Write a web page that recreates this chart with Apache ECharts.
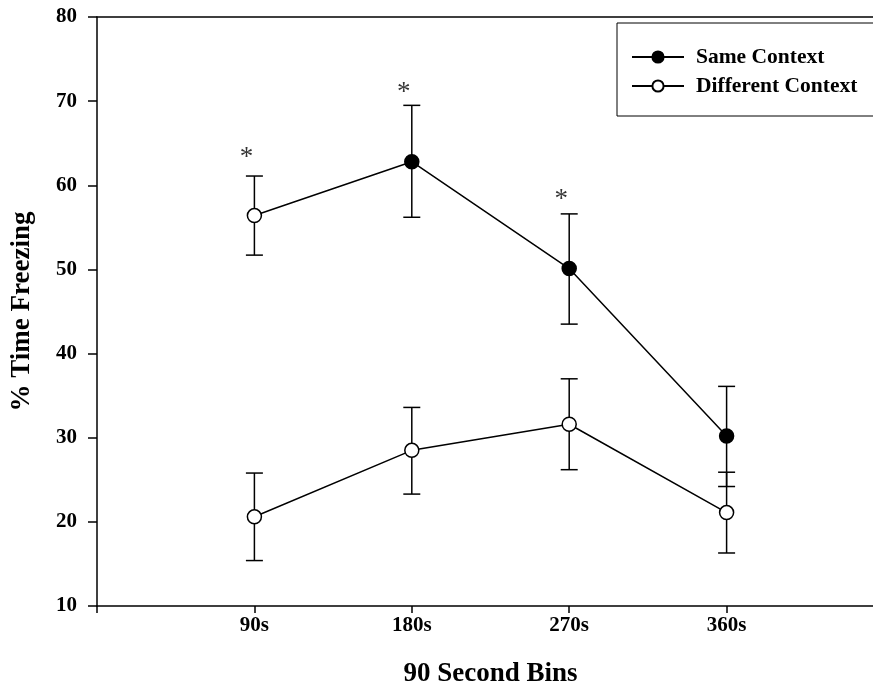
<!DOCTYPE html>
<html>
<head>
<meta charset="utf-8">
<script src="https://cdn.jsdelivr.net/npm/echarts@6/dist/echarts.min.js"></script>
<style>
  html, body { margin: 0; padding: 0; background: #fff; }
  #chart { width: 873px; height: 683px; }
</style>
</head>
<body>
<div id="chart"></div>
<script>
  // bins sit at x = 1..4 on a 0..5 value axis
  var bins = ['90s', '180s', '270s', '360s']
  var sameMean = [56.4, 62.8, 50.1, 30.2]
  var sameLow = [51.7, 56.2, 43.5, 24.2]
  var sameHigh = [61.1, 69.5, 56.6, 36.1]
  var diffMean = [20.6, 28.5, 31.6, 21.1]
  var diffLow = [15.4, 23.3, 26.2, 16.3]
  var diffHigh = [25.8, 33.6, 37.0, 25.9]
  // significance asterisks (bin index, height)
  var starBins = [1, 2, 3]
  var starY = [64.0, 71.7, 59.0]

  var serif = '"Liberation Serif", "Times New Roman", serif'

  function pts(vals) {
    return vals.map(function (v, i) { return [i + 1, v] })
  }
  function bars(low, high) {
    return low.map(function (v, i) { return [i + 1, v, high[i]] })
  }
  function renderBar(params, api) {
    var top = api.coord([api.value(0), api.value(2)])
    var bot = api.coord([api.value(0), api.value(1)])
    var hw = 8.5
    var st = { stroke: '#000', lineWidth: 1.5 }
    return {
      type: 'group',
      children: [
        { type: 'line', shape: { x1: top[0], y1: top[1], x2: bot[0], y2: bot[1] }, style: st },
        { type: 'line', shape: { x1: top[0] - hw, y1: top[1], x2: top[0] + hw, y2: top[1] }, style: st },
        { type: 'line', shape: { x1: bot[0] - hw, y1: bot[1], x2: bot[0] + hw, y2: bot[1] }, style: st }
      ]
    }
  }

  var sameData = pts(sameMean).map(function (p, i) {
    // first point is drawn hollow in the original figure
    return i === 0 ? { value: p, itemStyle: { color: '#fff' } } : p
  })

  var chart = echarts.init(document.getElementById('chart'))
  chart.setOption({
    animation: false,
    backgroundColor: '#fff',
    grid: { left: 97, right: -11, top: 17, bottom: 77, containLabel: false, outerBoundsMode: 'none' },
    legend: {
      orient: 'vertical',
      left: 617,
      top: 23,
      padding: [23, 60, 19, 14],
      itemGap: 7,
      itemWidth: 52,
      itemHeight: 14,
      borderColor: '#000',
      borderWidth: 1,
      textStyle: { fontFamily: serif, fontWeight: 'bold', fontSize: 21.5, color: '#000', padding: [0, 0, 0, 7] },
      data: ['Same Context', 'Different Context']
    },
    xAxis: [
      {
        type: 'value',
        min: 0,
        max: 5,
        interval: 1,
        name: '90 Second Bins',
        nameLocation: 'middle',
        nameGap: 55,
        nameTextStyle: { fontFamily: serif, fontWeight: 'bold', fontSize: 27, color: '#000' },
        axisLine: { lineStyle: { color: '#000', width: 1.5 } },
        axisTick: { length: 7, lineStyle: { color: '#000', width: 1.5 } },
        axisLabel: {
          margin: 9,
          fontFamily: serif, fontWeight: 'bold', fontSize: 21, color: '#000',
          showMinLabel: true, showMaxLabel: true,
          formatter: function (v) { return bins[v - 1] || '' }
        },
        splitLine: { show: false }
      },
      {
        type: 'value',
        position: 'top',
        min: 0,
        max: 5,
        axisLine: { lineStyle: { color: '#000', width: 1.5 } },
        axisTick: { show: false },
        axisLabel: { show: false },
        splitLine: { show: false }
      }
    ],
    yAxis: {
      type: 'value',
      min: 10,
      max: 80,
      interval: 10,
      name: '% Time Freezing',
      nameLocation: 'middle',
      nameGap: 61,
      nameTextStyle: { fontFamily: serif, fontWeight: 'bold', fontSize: 27, color: '#000' },
      axisLine: { show: true, lineStyle: { color: '#000', width: 1.5 } },
      axisTick: { show: true, length: 9, lineStyle: { color: '#000', width: 1.5 } },
      axisLabel: { margin: 20, fontFamily: serif, fontWeight: 'bold', fontSize: 21, color: '#000' },
      splitLine: { show: false }
    },
    series: [
      {
        type: 'custom',
        renderItem: renderBar,
        data: bars(sameLow, sameHigh),
        z: 2,
        silent: true
      },
      {
        type: 'custom',
        renderItem: renderBar,
        data: bars(diffLow, diffHigh),
        z: 2,
        silent: true
      },
      {
        name: 'Same Context',
        type: 'line',
        data: sameData,
        symbol: 'circle',
        symbolSize: 14,
        z: 3,
        lineStyle: { color: '#000', width: 1.5 },
        itemStyle: { color: '#000', borderColor: '#000', borderWidth: 1.5 }
      },
      {
        name: 'Different Context',
        type: 'line',
        data: pts(diffMean),
        symbol: 'circle',
        symbolSize: 14,
        z: 3,
        lineStyle: { color: '#000', width: 1.5 },
        itemStyle: { color: '#fff', borderColor: '#000', borderWidth: 1.5 }
      },
      {
        type: 'scatter',
        data: starBins.map(function (b, i) { return [b, starY[i]] }),
        symbolSize: 1,
        itemStyle: { color: 'transparent' },
        silent: true,
        z: 4,
        label: {
          show: true,
          position: 'inside',
          offset: [-8, 6],
          formatter: '*',
          fontFamily: serif,
          fontSize: 27,
          color: '#000'
        }
      }
    ]
  })
</script>
</body>
</html>
